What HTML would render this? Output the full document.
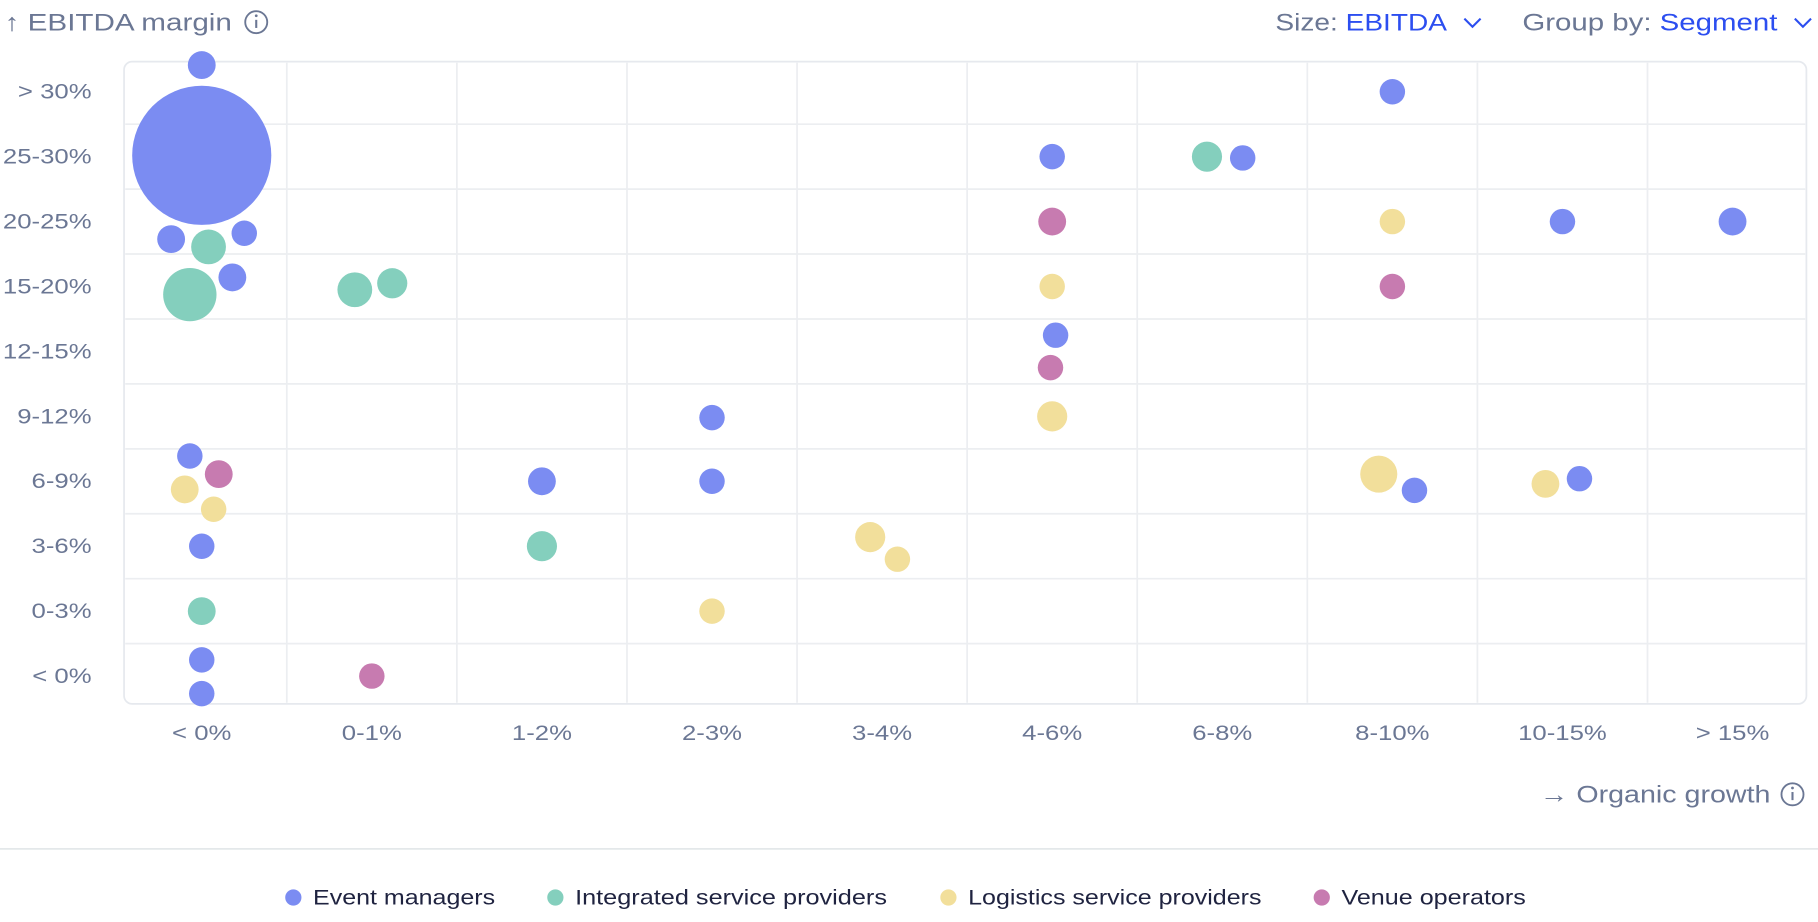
<!DOCTYPE html>
<html><head><meta charset="utf-8"><style>
html,body{margin:0;padding:0;background:#fff;}
svg{display:block;font-family:"Liberation Sans",sans-serif;}
</style></head><body>
<svg id="chart" width="1818" height="922" viewBox="0 0 1568 795" xmlns="http://www.w3.org/2000/svg">
<g>
<text x="4" y="26" font-size="21" fill="#6b7794" textLength="196" lengthAdjust="spacingAndGlyphs">↑ EBITDA margin</text>
<circle cx="221" cy="19" r="9.5" fill="none" stroke="#6b7794" stroke-width="1.6"/>
<line x1="221" y1="17" x2="221" y2="24" stroke="#6b7794" stroke-width="1.8"/>
<circle cx="221" cy="13.5" r="1.2" fill="#6b7794"/>
</g>
<g>
<text x="1100" y="26" font-size="21" fill="#6b7794" textLength="148" lengthAdjust="spacingAndGlyphs">Size: <tspan fill="#2c4ef0">EBITDA</tspan></text>
<polyline points="1263,16 1270,23 1277,16" fill="none" stroke="#2c4ef0" stroke-width="1.8"/>
</g>
<g>
<text x="1313" y="26" font-size="21" fill="#6b7794" textLength="220" lengthAdjust="spacingAndGlyphs">Group by: <tspan fill="#2c4ef0">Segment</tspan></text>
<polyline points="1548,16 1555,23 1562,16" fill="none" stroke="#2c4ef0" stroke-width="1.8"/>
</g>
<rect x="107" y="53" width="1451" height="554" rx="7" fill="none" stroke="#e6e9ee" stroke-width="1.5"/>
<g id="grid"></g>
<g id="ticks"></g>
<g id="bubbles"></g>
<g>
<text x="1328" y="692" font-size="21" fill="#6b7794" textLength="199" lengthAdjust="spacingAndGlyphs">→ Organic growth</text>
<circle cx="1546" cy="685" r="9.5" fill="none" stroke="#6b7794" stroke-width="1.6"/>
<line x1="1546" y1="683" x2="1546" y2="690" stroke="#6b7794" stroke-width="1.8"/>
<circle cx="1546" cy="679.5" r="1.2" fill="#6b7794"/>
</g>
<line x1="0" y1="732" x2="1568" y2="732" stroke="#e4e8ea" stroke-width="1.5"/>
<g id="legend"></g>
</svg>
<script>
const xCategories = ["< 0%","0-1%","1-2%","2-3%","3-4%","4-6%","6-8%","8-10%","10-15%","> 15%"];
const yCategories = ["> 30%","25-30%","20-25%","15-20%","12-15%","9-12%","6-9%","3-6%","0-3%","< 0%"];
const seriesNames = ["Event managers","Integrated service providers","Logistics service providers","Venue operators"];
const seriesColors = ["#7b8cf2","#84cfbd","#f2df9b","#c77bb0"];
const eventX = [0,0,-0.18,0.25,0.18,7,5,6.12,8,9,5.02,3,-0.07,2,3,7.13,8.1,0,0,0];
const eventY = [-0.41,0.98,2.27,2.18,2.86,0,1,1.02,2,2,3.75,5.02,5.61,6,6,6.14,5.96,7,8.75,9.27];
const eventSize = [16,400,16,13.4,16,13.4,13.4,13.4,13.4,16,13.4,13.4,13.4,16,13.4,13.4,13.4,13.4,13.4,13.4];
const integratedX = [0.04,-0.07,0.9,1.12,5.91,2,0];
const integratedY = [2.39,3.125,3.05,2.95,1,7,8];
const integratedSize = [25,58.8,25,18.8,18.8,18.8,16];
const logisticsX = [7,5,5,6.92,7.9,-0.1,0.07,3.93,4.09,3];
const logisticsY = [2,3,5,5.89,6.04,6.125,6.43,6.86,7.2,8];
const logisticsSize = [13.4,13.4,18.8,28.4,16,16,13.4,18.8,13.4,13.4];
const venueX = [5,7,4.99,0.1,1];
const venueY = [2,3,4.25,5.89,9];
const venueSize = [16,13.4,13.4,16,13.4];

const NS="http://www.w3.org/2000/svg";
const xScale = v => 174 + 146.7*v;
const yScale = v => 79 + 56*v;
const rScale = v => 3*Math.sqrt(v);
function mk(tag, attrs){const e=document.createElementNS(NS,tag);for(const k in attrs)e.setAttribute(k,attrs[k]);return e;}
function widen(t,f){const w=t.getComputedTextLength();t.setAttribute('textLength',w*f);t.setAttribute('lengthAdjust','spacingAndGlyphs');}
const grid=document.getElementById('grid'), ticks=document.getElementById('ticks');
for(let i=0;i<xCategories.length;i++){
  if(i>0){const l=mk('line',{x1:xScale(i-0.5),x2:xScale(i-0.5),y1:54,y2:606,stroke:'#eceef1','stroke-width':1.5});
  
  
  grid.appendChild(l);}
  const t=mk('text',{x:xScale(i),y:638,'font-size':18.5,fill:'#6b7794','text-anchor':'middle'});t.textContent=xCategories[i];
  
  
  ticks.appendChild(t);widen(t,1.2);
}
for(let j=0;j<yCategories.length;j++){
  if(j>0){const l=mk('line',{x1:108,x2:1557,y1:yScale(j-0.5),y2:yScale(j-0.5),stroke:'#eceef1','stroke-width':1.5});
  
  
  grid.appendChild(l);}
  const t=mk('text',{x:79,y:yScale(j)+6,'font-size':18.5,fill:'#6b7794','text-anchor':'end'});t.textContent=yCategories[j];
  
  
  ticks.appendChild(t);widen(t,1.2);
}
const all=[[eventX,eventY,eventSize],[integratedX,integratedY,integratedSize],[logisticsX,logisticsY,logisticsSize],[venueX,venueY,venueSize]];
const bub=document.getElementById('bubbles');
all.forEach((s,si)=>{
  for(let k=0;k<s[0].length;k++){
    const c=mk('circle',{cx:xScale(s[0][k]),cy:yScale(s[1][k]),r:rScale(s[2][k]),fill:seriesColors[si]});
    
    
    bub.appendChild(c);
  }
});
const legX=[253,479,818,1140];
const legW=[157,269,253,159];
const leg=document.getElementById('legend');
seriesNames.forEach((n,i)=>{
  const g=mk('g',{});
  
  
  g.appendChild(mk('circle',{cx:legX[i],cy:774,r:7,fill:seriesColors[i]}));
  const t=mk('text',{x:legX[i]+17,y:780,'font-size':18.5,fill:'#1f2340',textLength:legW[i],lengthAdjust:'spacingAndGlyphs'});t.textContent=n;
  g.appendChild(t);leg.appendChild(g);
});
</script>
</body></html>
